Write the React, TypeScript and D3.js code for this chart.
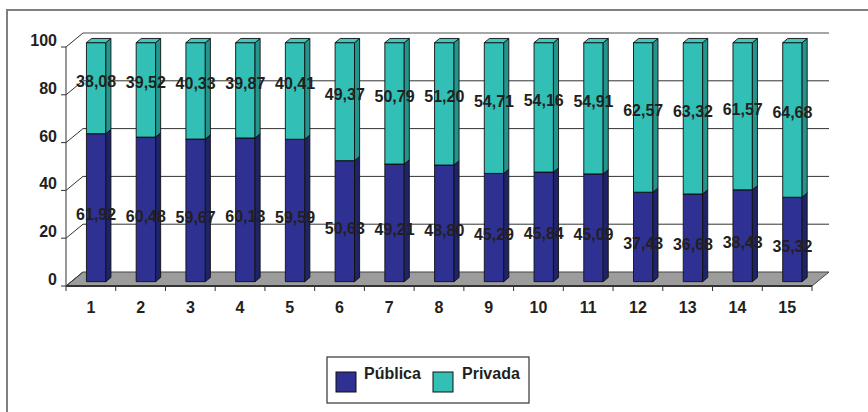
import React from "react";
import * as d3 from "d3";

const categories = ["1","2","3","4","5","6","7","8","9","10","11","12","13","14","15"];
const publica = [61.92,60.48,59.67,60.13,59.59,50.63,49.21,48.80,45.29,45.84,45.09,37.43,36.68,38.43,35.32];
const privada = [38.08,39.52,40.33,39.87,40.41,49.37,50.79,51.20,54.71,54.16,54.91,62.57,63.32,61.57,64.68];
const yTicks = [0,20,40,60,80,100];
const seriesNames = ["Pública","Privada"];

const W = 868, H = 412;
const DX = 17, DY = 14;
const ZF = 0.31, ZB = 0.61, BW = 0.39;
const FONT = "'Liberation Sans', Arial, sans-serif";
const TXT = "#231F20";

const colors = {
  pub: { front: "#2E3192", side: "#1F2368", top: "#3A3FA6" },
  pri: { front: "#31BFB6", side: "#23958D", top: "#3CCAC0" },
};

const fmt = (v: number) => v.toFixed(2).replace(".", ",");

export default function App() {
  const x = d3.scaleLinear().domain([0, categories.length]).range([66, 812]);
  const y = d3.scaleLinear().domain([0, 100]).range([286, 47]);
  const P = (cx: number, v: number, z: number) => [x(cx) + z * DX, y(v) - z * DY];
  const poly = (pts: number[][]) => pts.map((p) => p.join(",")).join(" ");

  const box = (i: number, v0: number, v1: number, c: any, key: string) => {
    const xa = i + (1 - BW) / 2, xb = i + (1 + BW) / 2;
    return (
      <g key={key} stroke="#111" strokeWidth={0.9} strokeLinejoin="round">
        <polygon points={poly([P(xa, v0, ZF), P(xb, v0, ZF), P(xb, v1, ZF), P(xa, v1, ZF)])} fill={c.front} />
        <polygon points={poly([P(xb, v0, ZF), P(xb, v0, ZB), P(xb, v1, ZB), P(xb, v1, ZF)])} fill={c.side} />
        <polygon points={poly([P(xa, v1, ZF), P(xb, v1, ZF), P(xb, v1, ZB), P(xa, v1, ZB)])} fill={c.top} />
      </g>
    );
  };

  const labelPos = (i: number, mid: number, off: number) => {
    const p = P(i + 0.5, mid, ZF);
    return [p[0], p[1] + off];
  };

  return (
    <svg width={W} height={H} style={{ position: "absolute", left: 0, top: 0, background: "#fff" }} fontFamily={FONT}>
      <rect x={7} y={10} width={W + 20} height={H + 20} fill="#fff" stroke="#808080" strokeWidth={2} />
      {/* floor */}
      <polygon points={poly([P(0, 0, 0), P(15, 0, 0), P(15, 0, 1), P(0, 0, 1)])} fill="#9C9C9C" stroke="#444" strokeWidth={1} />
      {/* back wall gridlines */}
      {yTicks.filter((t) => t > 0).map((t) => {
        const a = P(0, t, 1), b = P(15, t, 1);
        return <line key={"g" + t} x1={a[0]} y1={a[1]} x2={b[0]} y2={b[1]} stroke={t === 100 ? "#888" : "#333"} strokeWidth={t === 100 ? 1.5 : 1} />;
      })}
      {/* left wall gridlines */}
      {yTicks.map((t) => {
        const a = P(0, t, 0), b = P(0, t, 1);
        return <line key={"lw" + t} x1={a[0]} y1={a[1]} x2={b[0]} y2={b[1]} stroke="#333" strokeWidth={1} />;
      })}
      {/* y axis */}
      <line x1={x(0)} y1={y(0)} x2={x(0)} y2={y(100)} stroke="#333" strokeWidth={1} />
      {yTicks.map((t) => (
        <g key={"yt" + t}>
          <line x1={x(0) - 5} x2={x(0)} y1={y(t)} y2={y(t)} stroke="#333" />
          <text x={57} y={y(t) - 1} textAnchor="end" fontSize={16} fontWeight="bold" fill={TXT}>{t}</text>
        </g>
      ))}
      {/* x axis */}
      <line x1={x(0)} y1={y(0)} x2={x(15)} y2={y(0)} stroke="#333" strokeWidth={2} />
      {d3.range(categories.length + 1).map((i) => (
        <line key={"xt" + i} x1={x(i)} x2={x(i)} y1={y(0)} y2={y(0) + 5} stroke="#333" />
      ))}
      {categories.map((c, i) => (
        <text key={"xl" + c} x={x(i + 0.5)} y={313} textAnchor="middle" fontSize={16} fontWeight="bold" fill={TXT}>{c}</text>
      ))}
      {/* bars */}
      {categories.map((c, i) => (
        <g key={"bar" + c}>
          {box(i, 0, publica[i], colors.pub, "p" + i)}
          {box(i, publica[i], publica[i] + privada[i], colors.pri, "q" + i)}
        </g>
      ))}
      {/* labels */}
      {categories.map((c, i) => {
        const a = labelPos(i, publica[i] / 2, 7);
        const b = labelPos(i, publica[i] + privada[i] / 2, -7);
        return (
          <g key={"lab" + c} fontSize={16} fontWeight="bold" fill={TXT} textAnchor="middle">
            <text x={a[0]} y={a[1]} dominantBaseline="central">{fmt(publica[i])}</text>
            <text x={b[0]} y={b[1]} dominantBaseline="central">{fmt(privada[i])}</text>
          </g>
        );
      })}
      {/* legend */}
      <rect x={327} y={357} width={202} height={46} fill="#fff" stroke="#333" strokeWidth={1.2} />
      <rect x={336} y={372} width={20} height={20} fill={colors.pub.front} stroke="#111" />
      <text x={364} y={379} fontSize={16} fontWeight="bold" fill={TXT}>{seriesNames[0]}</text>
      <rect x={433} y={372} width={20} height={20} fill={colors.pri.front} stroke="#111" />
      <text x={462} y={379} fontSize={16} fontWeight="bold" fill={TXT}>{seriesNames[1]}</text>
    </svg>
  );
}
